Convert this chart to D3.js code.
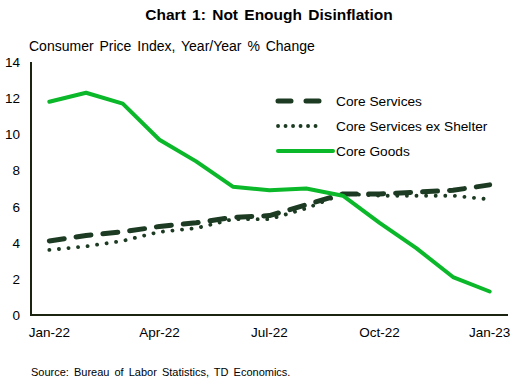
<!DOCTYPE html>
<html>
<head>
<meta charset="utf-8">
<script src="https://cdn.jsdelivr.net/npm/d3@7"></script>
<style>
  body { margin: 0; background: #fff; }
  text { font-family: "Liberation Sans", Arial, sans-serif; fill: #000; }
</style>
</head>
<body>
<div id="chart"></div>
<script>
// months Jan-22 .. Jan-23
const months = ["Jan-22", "Feb-22", "Mar-22", "Apr-22", "May-22", "Jun-22", "Jul-22",
                "Aug-22", "Sep-22", "Oct-22", "Nov-22", "Dec-22", "Jan-23"];
const tickLabels = ["Jan-22", "Apr-22", "Jul-22", "Oct-22", "Jan-23"];
const yTicks = [0, 2, 4, 6, 8, 10, 12, 14];

const coreServices = [4.1, 4.4, 4.6, 4.9, 5.1, 5.4, 5.5, 6.1, 6.7, 6.7, 6.8, 6.9, 7.2];
const coreServicesExShelter = [3.6, 3.8, 4.1, 4.6, 4.8, 5.3, 5.3, 5.9, 6.7, 6.6, 6.6, 6.6, 6.4];
const coreGoods = [11.8, 12.3, 11.7, 9.7, 8.5, 7.1, 6.9, 7.0, 6.6, 5.1, 3.7, 2.1, 1.3];

const seriesNames = ["Core Services", "Core Services ex Shelter", "Core Goods"];

const width = 516, height = 385;
const margin = { left: 31, right: 8, top: 62, bottom: 70 };
const darkGreen = "#1c3b22", lightGreen = "#0ab82a", axisColor = "#1a2410";

const svg = d3.select("#chart").append("svg")
    .attr("width", width)
    .attr("height", height);

const x = d3.scalePoint()
    .domain(months)
    .range([margin.left, width - margin.right])
    .padding(0.5);

const y = d3.scaleLinear()
    .domain([0, 14])
    .range([height - margin.bottom, margin.top]);

// title + subtitle
svg.append("text")
    .attr("x", 269).attr("y", 20)
    .attr("text-anchor", "middle")
    .style("font-size", "15.5px")
    .style("font-weight", "bold")
    .style("word-spacing", "2px")
    .text("Chart 1: Not Enough Disinflation");

svg.append("text")
    .attr("x", 29).attr("y", 51)
    .style("font-size", "14px")
    .style("word-spacing", "2px")
    .text("Consumer Price Index, Year/Year % Change");

// y axis labels (no tick marks)
svg.append("g")
    .selectAll("text")
    .data(yTicks)
    .join("text")
    .attr("x", 20)
    .attr("y", d => y(d) + 5)
    .attr("text-anchor", "end")
    .style("font-size", "13.5px")
    .text(d => d);

// x labels
svg.append("g")
    .selectAll("text")
    .data(tickLabels)
    .join("text")
    .attr("x", d => x(d))
    .attr("y", y(0) + 22)
    .attr("text-anchor", "middle")
    .style("font-size", "13.5px")
    .text(d => d);

// axis lines
svg.append("path")
    .attr("d", `M${margin.left},${y(14)}V${y(0)}H${width - margin.right}`)
    .attr("fill", "none")
    .attr("stroke", axisColor)
    .attr("stroke-width", 2);

const line = d3.line()
    .x((d, i) => x(months[i]))
    .y(d => y(d));

const styles = [
    { data: coreServices, color: darkGreen, width: 5, dash: "15,12", cap: "round" },
    { data: coreServicesExShelter, color: darkGreen, width: 3.8, dash: "0.1,9.5", cap: "round" },
    { data: coreGoods, color: lightGreen, width: 4, dash: null, cap: "round" }
];

styles.forEach(s => {
    svg.append("path")
        .datum(s.data)
        .attr("d", line)
        .attr("fill", "none")
        .attr("stroke", s.color)
        .attr("stroke-width", s.width)
        .attr("stroke-dasharray", s.dash)
        .attr("stroke-linecap", s.cap)
        .attr("stroke-linejoin", "round");
});

// legend
const legend = svg.append("g").attr("transform", "translate(278,101)");
seriesNames.forEach((name, i) => {
    const s = styles[i];
    const g = legend.append("g").attr("transform", `translate(0,${i * 25})`);
    g.append("line")
        .attr("x1", 0).attr("x2", i === 2 ? 55 : 44)
        .attr("y1", 0).attr("y2", 0)
        .attr("stroke", s.color)
        .attr("stroke-width", s.width)
        .attr("stroke-dasharray", i === 0 ? "13,15" : (i === 1 ? "0.1,7.4" : null))
        .attr("stroke-linecap", s.cap);
    g.append("text")
        .attr("x", 58).attr("y", 5)
        .style("font-size", "13.7px")
        .text(name);
});

// source
svg.append("text")
    .attr("x", 31).attr("y", 376)
    .style("font-size", "11px")
    .style("word-spacing", "2px")
    .text("Source:  Bureau  of Labor Statistics,  TD  Economics.");
</script>
</body>
</html>
